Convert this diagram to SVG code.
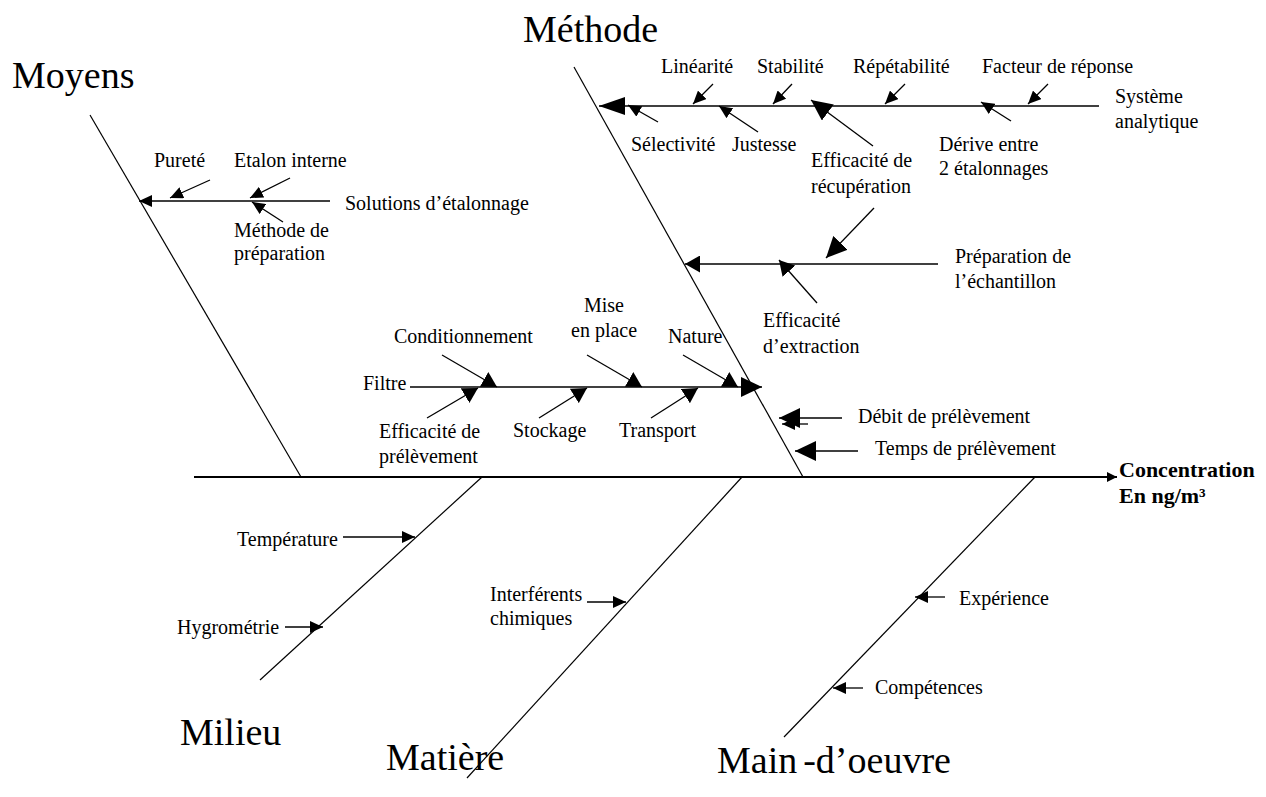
<svg xmlns="http://www.w3.org/2000/svg" width="1266" height="797" viewBox="0 0 1266 797">
<style>
text{font-family:"Liberation Serif","Times New Roman",serif;fill:#000}
.t{font-size:20px}
.big{font-size:38px}
.bold{font-size:22px;font-weight:bold}
line{stroke:#000;fill:none}
.bone{stroke-width:1.2}
.br{stroke-width:1.6}
.sp{stroke-width:2}
.a{stroke-width:1.3}
</style>
<defs>
<marker id="mt" markerUnits="userSpaceOnUse" viewBox="0 -5 10 10" refX="10" refY="0" markerWidth="10" markerHeight="10" orient="auto"><path d="M0,-5L10,0L0,5z"/></marker>
<marker id="ms" markerUnits="userSpaceOnUse" viewBox="0 -6 13 12" refX="13" refY="0" markerWidth="13" markerHeight="12" orient="auto"><path d="M0,-6L13,0L0,6z"/></marker>
<marker id="mm" markerUnits="userSpaceOnUse" viewBox="0 -8.5 15 17" refX="15" refY="0" markerWidth="15" markerHeight="17" orient="auto"><path d="M0,-8.5L15,0L0,8.5z"/></marker>
<marker id="ml" markerUnits="userSpaceOnUse" viewBox="0 -10 21 20" refX="21" refY="0" markerWidth="21" markerHeight="20" orient="auto"><path d="M0,-10L21,0L0,10z"/></marker>
<marker id="mx" markerUnits="userSpaceOnUse" viewBox="0 -9 26 18" refX="26" refY="0" markerWidth="26" markerHeight="18" orient="auto"><path d="M0,-9L26,0L0,9z"/></marker>
</defs>

<g id="connectors">
  <line class="sp" x1="194" y1="477" x2="1117" y2="477" marker-end="url(#mt)"/>
  <line class="bone" x1="90" y1="115" x2="301" y2="477"/>
  <line class="bone" x1="574" y1="67" x2="803" y2="477"/>
  <line class="bone" x1="482" y1="477" x2="260" y2="680"/>
  <line class="bone" x1="742" y1="477" x2="467" y2="778"/>
  <line class="bone" x1="1035" y1="477" x2="784" y2="737"/>

  <line class="br" x1="330" y1="201" x2="139" y2="201" marker-end="url(#ms)"/>
  <line class="a" x1="210" y1="180" x2="170" y2="198" marker-end="url(#ms)"/>
  <line class="a" x1="290" y1="178" x2="250" y2="198" marker-end="url(#ms)"/>
  <line class="a" x1="283" y1="222" x2="252" y2="202" marker-end="url(#ms)"/>

  <line class="br" x1="1099" y1="106" x2="599" y2="106" marker-end="url(#mx)"/>
  <line class="a" x1="713" y1="84" x2="693" y2="104" marker-end="url(#ms)"/>
  <line class="a" x1="792" y1="84" x2="773" y2="104" marker-end="url(#ms)"/>
  <line class="a" x1="905" y1="84" x2="885" y2="104" marker-end="url(#ms)"/>
  <line class="a" x1="1048" y1="84" x2="1028" y2="104" marker-end="url(#ms)"/>
  <line class="a" x1="658" y1="122" x2="628" y2="105" marker-end="url(#ms)"/>
  <line class="a" x1="758" y1="132" x2="719" y2="106" marker-end="url(#ms)"/>
  <line class="a" x1="873" y1="146" x2="811" y2="100" marker-end="url(#ml)"/>
  <line class="a" x1="1011" y1="121" x2="981" y2="102" marker-end="url(#ms)"/>

  <line class="br" x1="938" y1="264" x2="685" y2="264" marker-end="url(#mm)"/>
  <line class="a" x1="874" y1="208" x2="826" y2="258" marker-end="url(#ml)"/>
  <line class="a" x1="817" y1="303" x2="779" y2="260" marker-end="url(#mm)"/>

  <line class="br" x1="410" y1="387" x2="762" y2="387" marker-end="url(#ml)"/>
  <line class="a" x1="442" y1="355" x2="497" y2="387" marker-end="url(#mm)"/>
  <line class="a" x1="587" y1="355" x2="642" y2="387" marker-end="url(#mm)"/>
  <line class="a" x1="683" y1="355" x2="738" y2="387" marker-end="url(#mm)"/>
  <line class="a" x1="427" y1="418" x2="478" y2="388" marker-end="url(#mm)"/>
  <line class="a" x1="539" y1="418" x2="587" y2="388" marker-end="url(#mm)"/>
  <line class="a" x1="651" y1="418" x2="698" y2="388" marker-end="url(#mm)"/>

  <line class="a" x1="842" y1="418" x2="779" y2="418" marker-end="url(#ml)"/>
  <line class="a" x1="808" y1="424" x2="782" y2="424" marker-end="url(#ms)"/>
  <line class="a" x1="858" y1="451" x2="795" y2="451" marker-end="url(#ml)"/>

  <line class="a" x1="343" y1="537" x2="415" y2="537" marker-end="url(#ms)"/>
  <line class="a" x1="285" y1="627" x2="323" y2="627" marker-end="url(#ms)"/>
  <line class="a" x1="587" y1="602" x2="626" y2="602" marker-end="url(#ms)"/>
  <line class="a" x1="945" y1="597" x2="915" y2="597" marker-end="url(#ms)"/>
  <line class="a" x1="863" y1="688" x2="833" y2="688" marker-end="url(#ms)"/>
</g>

<g id="moyens">
  <text class="big" x="12" y="88">Moyens</text>
  <text class="t" x="154" y="167">Pureté</text>
  <text class="t" x="234" y="167">Etalon interne</text>
  <text class="t" x="345" y="210">Solutions d’étalonnage</text>
  <text class="t" x="234" y="237">Méthode de</text>
  <text class="t" x="234" y="260">préparation</text>
</g>

<g id="methode">
  <text class="big" x="523" y="42">Méthode</text>
  <text class="t" x="661" y="73">Linéarité</text>
  <text class="t" x="757" y="73">Stabilité</text>
  <text class="t" x="853" y="73">Répétabilité</text>
  <text class="t" x="982" y="73">Facteur de réponse</text>
  <text class="t" x="1115" y="103">Système</text>
  <text class="t" x="1115" y="128">analytique</text>
  <text class="t" x="631" y="151">Sélectivité</text>
  <text class="t" x="732" y="151">Justesse</text>
  <text class="t" x="811" y="167">Efficacité de</text>
  <text class="t" x="811" y="193">récupération</text>
  <text class="t" x="939" y="151">Dérive entre</text>
  <text class="t" x="939" y="175">2 étalonnages</text>
  <text class="t" x="955" y="263">Préparation de</text>
  <text class="t" x="955" y="288">l’échantillon</text>
  <text class="t" x="763" y="327">Efficacité</text>
  <text class="t" x="763" y="353">d’extraction</text>
</g>

<g id="filtre">
  <text class="t" x="363" y="390">Filtre</text>
  <text class="t" x="394" y="343">Conditionnement</text>
  <text class="t" x="584" y="312">Mise</text>
  <text class="t" x="571" y="337">en place</text>
  <text class="t" x="668" y="343">Nature</text>
  <text class="t" x="379" y="438">Efficacité de</text>
  <text class="t" x="379" y="463">prélèvement</text>
  <text class="t" x="513" y="437">Stockage</text>
  <text class="t" x="619" y="437">Transport</text>
  <text class="t" x="858" y="423">Débit de prélèvement</text>
  <text class="t" x="875" y="455">Temps de prélèvement</text>
</g>

<g id="effet">
  <text class="bold" x="1119" y="477">Concentration</text>
  <text class="bold" x="1119" y="503">En ng/m³</text>
</g>

<g id="milieu">
  <text class="big" x="180" y="745">Milieu</text>
  <text class="t" x="237" y="546">Température</text>
  <text class="t" x="177" y="634">Hygrométrie</text>
</g>

<g id="matiere">
  <text class="big" x="386" y="770">Matière</text>
  <text class="t" x="490" y="601">Interférents</text>
  <text class="t" x="490" y="625">chimiques</text>
</g>

<g id="main-oeuvre">
  <text class="big" x="717" y="773">Main<tspan dx="6">-d’oeuvre</tspan></text>
  <text class="t" x="959" y="605">Expérience</text>
  <text class="t" x="875" y="694">Compétences</text>
</g>
</svg>
